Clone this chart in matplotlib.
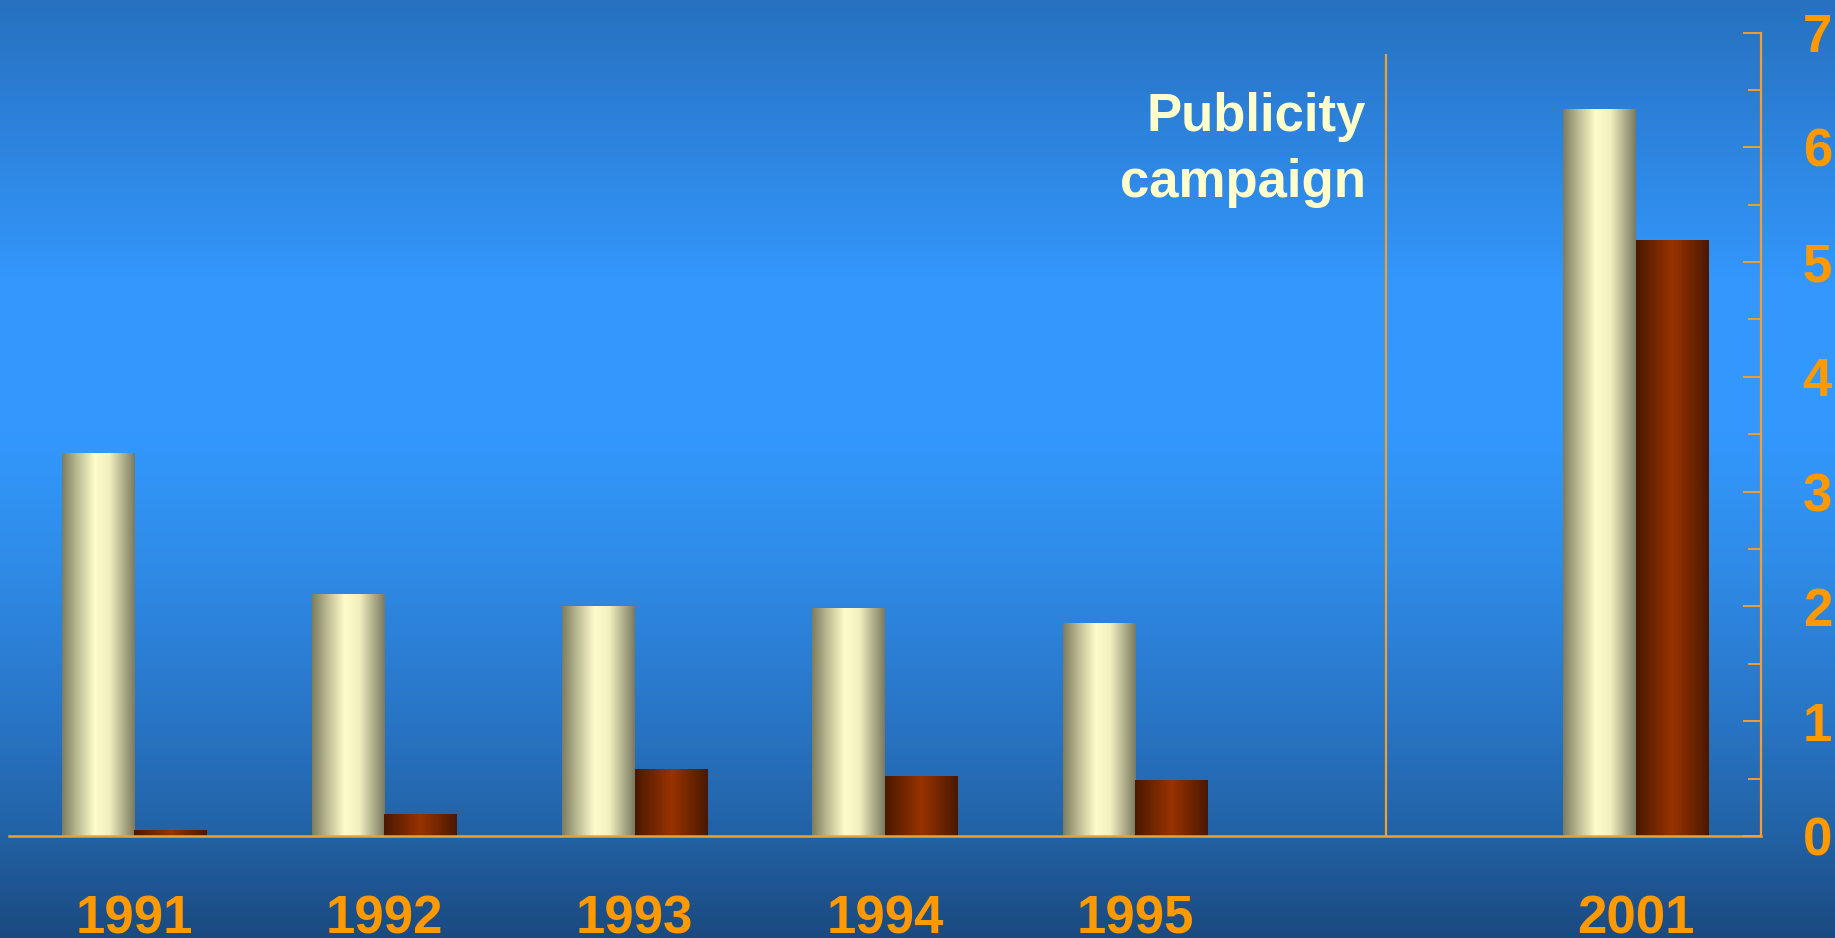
import numpy as np
import matplotlib
matplotlib.use('Agg')
import matplotlib.pyplot as plt
from matplotlib.colors import LinearSegmentedColormap
from matplotlib.ticker import MultipleLocator

# data
years = ['1991', '1992', '1993', '1994', '1995', '2001']
slots = [0, 1, 2, 3, 4, 6]          # slot 5 left empty for the campaign marker
cream_vals = [3.33, 2.10, 2.00, 1.98, 1.85, 6.33]
brown_vals = [0.05, 0.19, 0.58, 0.52, 0.48, 5.19]
yticks = [0, 1, 2, 3, 4, 5, 6, 7]
campaign_slot = 5
campaign_top = 6.81
campaign_label = 'Publicity\ncampaign'

orange = '#FF9900'
line_orange = '#EFA030'
plt.rcParams['font.family'] = ['Liberation Sans', 'DejaVu Sans']
plt.rcParams['font.weight'] = 'bold'

fig = plt.figure(figsize=(18.35, 9.38), dpi=100)

# background gradient
bg = fig.add_axes([0, 0, 1, 1], zorder=-1)
bg_cmap = LinearSegmentedColormap.from_list('bg', [
    (0.0, '#2771C0'), (0.3, '#3397FC'), (0.45, '#3399FF'), (0.6, '#2F8CE8'),
    (0.78, '#2873C3'), (0.89, '#2262A5'), (1.0, '#1B4A80')])
bg.imshow(np.linspace(0, 1, 256).reshape(-1, 1), cmap=bg_cmap, aspect='auto',
          extent=[0, 1, 0, 1])
bg.axis('off')

ax = fig.add_axes([9 / 1835, 102 / 938, 1752 / 1835, 803.5 / 938])
ax.set_facecolor('none')

w = 0.29
x = np.array(slots)
cream_bars = ax.bar(x - w / 2, cream_vals, w, color='none', zorder=2)
brown_bars = ax.bar(x + w / 2, brown_vals, w, color='none', zorder=2)

cream_cmap = LinearSegmentedColormap.from_list('cream', [
    (0.0, '#7C7C60'), (0.2, '#B9B890'), (0.45, '#FFFCCC'), (0.65, '#F2EFC0'),
    (1.0, '#7A7A60')])
brown_cmap = LinearSegmentedColormap.from_list('brown', [
    (0.0, '#4A1800'), (0.5, '#993300'), (1.0, '#4A1800')])
grad = np.linspace(0, 1, 256).reshape(1, -1)
for bars, cmap in [(cream_bars, cream_cmap), (brown_bars, brown_cmap)]:
    for r in bars:
        x0, h, bw = r.get_x(), r.get_height(), r.get_width()
        ax.imshow(grad, cmap=cmap, aspect='auto', extent=[x0, x0 + bw, 0, h],
                  zorder=2, interpolation='bilinear')

# campaign marker
ax.vlines(campaign_slot, 0, campaign_top, color=line_orange, lw=1.6, zorder=1)
ax.text(campaign_slot - 0.08, 5.57, campaign_label, ha='right', va='baseline',
        color='#FFFFCC', fontsize=38, fontweight='bold', linespacing=1.4)

ax.set_xlim(-0.5, 6.5)
ax.set_ylim(0, 7)

for s in ['left', 'top']:
    ax.spines[s].set_visible(False)
ax.spines['bottom'].set_color(line_orange)
ax.spines['bottom'].set_linewidth(1.8)
ax.spines['bottom'].set_zorder(3)
ax.spines['right'].set_color(line_orange)
ax.spines['right'].set_linewidth(1.6)

ax.set_xticks(slots)
ax.set_xticklabels(years)
ax.tick_params(axis='x', length=0, pad=42, labelsize=38, labelcolor=orange)

ax.yaxis.tick_right()
ax.set_yticks(yticks)
ax.set_yticklabels([str(t) for t in yticks])
ax.yaxis.set_minor_locator(MultipleLocator(0.5))
ax.tick_params(axis='y', which='major', direction='in', length=13, width=1.4,
               color=line_orange, pad=30, labelsize=38, labelcolor=orange)
ax.tick_params(axis='y', which='minor', direction='in', length=9.5, width=1.4,
               color=line_orange)
for lbl in ax.get_xticklabels() + ax.get_yticklabels():
    lbl.set_fontweight('bold')

fig.savefig('out.png', dpi=100)
